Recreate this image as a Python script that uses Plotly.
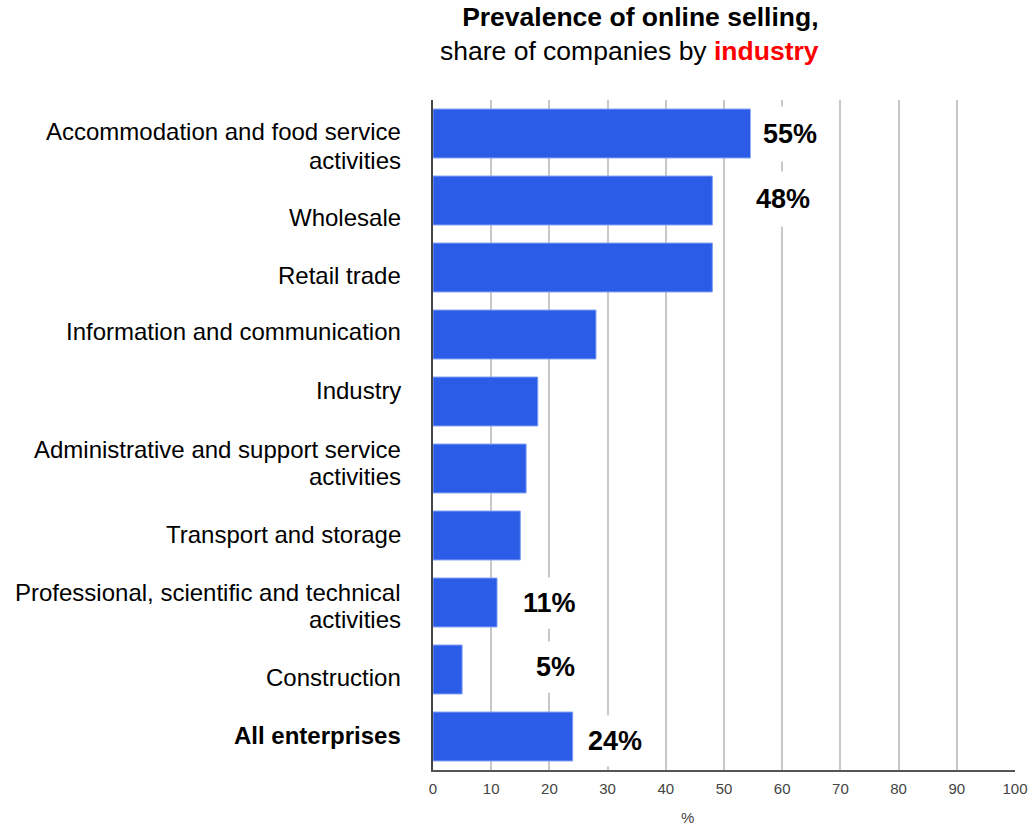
import plotly.graph_objects as go

# Share of companies selling online, by industry (%)
categories = [
    "Accommodation and food service activities",
    "Wholesale",
    "Retail trade",
    "Information and communication",
    "Industry",
    "Administrative and support service activities",
    "Transport and storage",
    "Professional, scientific and technical activities",
    "Construction",
    "All enterprises",
]
values = [55, 48, 48, 28, 18, 16, 15, 11, 5, 24]

# Category label lines as they are set beside each bar
label_lines = [
    ["Accommodation and food service", "activities"],
    ["Wholesale"],
    ["Retail trade"],
    ["Information and communication"],
    ["Industry"],
    ["Administrative and support service", "activities"],
    ["Transport and storage"],
    ["Professional, scientific and technical", "activities"],
    ["Construction"],
    ["<b>All enterprises</b>"],
]
# vertical offset (px, downwards) of each label line from its bar centre
label_line_shift = [
    [-2.5, 27],
    [16.5],
    [7.5],
    [-3],
    [-11],
    [-19.5, 8],
    [-1.5],
    [-10.5, 16.5],
    [8],
    [-1.5],
]

# Which bars carry a value label, and where the label sits
labelled = [0, 1, 7, 8, 9]
label_x = [61.3, 60.1, 20.1, 21.0, 31.3]
label_shift = [0, -2, 0, -3, 4.5]

x_ticks = list(range(0, 101, 10))

BAR_BLUE = "#2b5ce8"
FONT = "Liberation Sans, Arial, sans-serif"

W, H = 1029, 826
ML, MR, MT, MB = 433, 14, 100, 56
plot_w = W - ML - MR
plot_h = H - MT - MB


def px_x(p):
    return (p - ML) / plot_w


def px_y(p):
    return 1 - (p - MT) / plot_h


fig = go.Figure(
    go.Bar(
        x=values,
        y=categories,
        orientation="h",
        marker=dict(color=BAR_BLUE, line=dict(color="#7f9ef2", width=1)),
        hoverinfo="x+y",
    )
)

annotations = []

# Category labels, right-aligned to the left of the plot area
for cat, lines, shifts in zip(categories, label_lines, label_line_shift):
    for line, dy in zip(lines, shifts):
        annotations.append(
            dict(
                x=px_x(403),
                y=cat,
                xref="paper",
                yref="y",
                xanchor="right",
                yanchor="middle",
                yshift=-dy,
                text=line,
                showarrow=False,
                font=dict(family=FONT, size=24, color="#000000"),
            )
        )

# Value labels on a white patch that interrupts the gridlines
for i, lx, dy in zip(labelled, label_x, label_shift):
    annotations.append(
        dict(
            x=lx,
            y=categories[i],
            xref="x",
            yref="y",
            yshift=-dy,
            text=f"<b>{values[i]}%</b>",
            showarrow=False,
            font=dict(family=FONT, size=27, color="#000000"),
            bgcolor="#ffffff",
            borderpad=12 if i < 2 else 10,
        )
    )

# Two-line title with the highlighted word in red
annotations.append(
    dict(
        x=px_x(820.5),
        y=px_y(34),
        xref="paper",
        yref="paper",
        xanchor="right",
        yanchor="middle",
        text="<b>Prevalence of online selling,</b><br>share of companies by <b><span style='color:#ff0000'>industry</span></b>",
        showarrow=False,
        font=dict(family=FONT, size=26.5, color="#000000"),
        align="right",
    )
)

# Unit label under the value axis
annotations.append(
    dict(
        x=px_x(687),
        y=px_y(817),
        xref="paper",
        yref="paper",
        xanchor="center",
        yanchor="middle",
        text="%",
        showarrow=False,
        font=dict(family=FONT, size=15, color="#444444"),
    )
)

fig.update_layout(
    width=W,
    height=H,
    margin=dict(l=ML, r=MR, t=MT, b=MB, autoexpand=False),
    plot_bgcolor="#ffffff",
    paper_bgcolor="#ffffff",
    bargap=0.27,
    showlegend=False,
    annotations=annotations,
)

fig.update_xaxes(
    range=[0, 100],
    tickvals=x_ticks,
    ticktext=[str(t) for t in x_ticks],
    showgrid=True,
    gridcolor="#c8c8c8",
    gridwidth=2,
    zeroline=False,
    showline=True,
    linecolor="#555555",
    linewidth=2,
    tickfont=dict(family=FONT, size=15, color="#444444"),
    ticks="",
    ticklabelstandoff=4,
    automargin=False,
    fixedrange=True,
)

fig.update_yaxes(
    range=[len(categories) - 0.5, -0.5],
    showgrid=False,
    showline=True,
    linecolor="#444444",
    linewidth=2,
    showticklabels=False,
    ticks="",
    automargin=False,
    fixedrange=True,
)

fig.write_html("out.html")
